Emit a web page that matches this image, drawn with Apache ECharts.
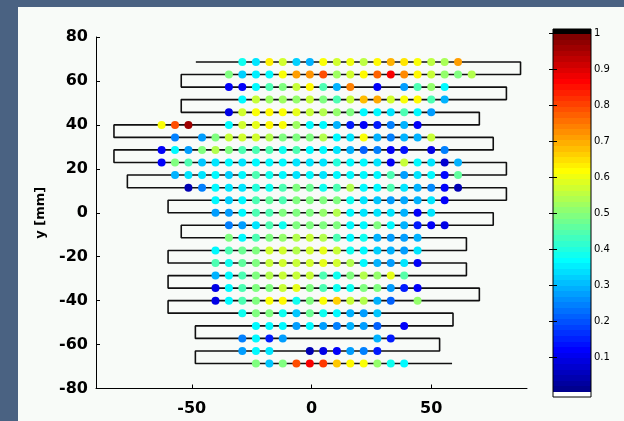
<!DOCTYPE html>
<html><head><meta charset="utf-8">
<script src="https://cdn.jsdelivr.net/npm/echarts@6.0.0/dist/echarts.min.js"></script>
<style>html,body{margin:0;padding:0;background:#4a6282;}#c{width:624px;height:421px;}</style>
</head><body><div id="c"></div>
<script>
// ---- data ----
// x position (mm) of each measurement column, k = -11 .. 12
const colX = [-62.6,-57.0,-51.4,-45.7,-40.1,-34.5,-28.9,-23.2,-17.6,-12.0,-6.3,-0.7,4.9,10.6,16.2,21.8,27.5,33.1,38.7,44.3,50.0,55.6,61.2,66.9];
// y position (mm) of each scan row, top to bottom
const rowY = [68.6,62.9,57.2,51.5,45.7,40.0,34.3,28.6,22.9,17.2,11.4,5.7,0,-5.7,-11.4,-17.2,-22.9,-28.6,-34.3,-40.0,-45.7,-51.5,-57.2,-62.9,-68.6];
// scan path extent of each row (mm)
const scanLeft  = [-48.3,-54.4,-54.4,-54.4,-54.4,-82.5,-82.5,-82.5,-82.5,-76.9,-76.9,-59.9,-59.9,-54.4,-54.4,-59.9,-59.9,-59.9,-59.9,-59.9,-59.9,-48.5,-48.5,-48.5,-48.5];
const scanRight = [87.3,87.3,81.4,81.4,70.1,70.1,75.9,75.9,81.4,81.4,81.4,81.4,75.9,75.9,64.7,64.7,64.7,64.7,70.1,70.1,59.1,59.1,53.5,53.5,58.7];
const n = null;
// measured value per row (columns as in colX)
const cellValues = [
 [n,n,n,n,n,n,.39,.35,.64,.58,.33,.30,.62,.58,.61,.56,.63,.70,.65,.62,.56,.54,.72,n],
 [n,n,n,n,n,.50,.33,.36,.37,.62,.72,.73,.80,.53,.58,.63,.78,.88,.74,.63,.57,.52,.50,.55],
 [n,n,n,n,n,.12,.12,.37,.45,.50,.57,.63,.45,.30,.75,n,.12,n,.28,.45,.52,.37,n,n],
 [n,n,n,n,n,n,.37,.57,.53,.53,.52,.57,.50,.45,.57,.69,.71,.58,.62,.63,.45,.30,n,n],
 [n,n,n,n,n,.10,.58,.62,.63,.62,.60,.57,.55,.52,.50,.37,.37,.35,.45,.37,.28,n,n,n],
 [.62,.80,.97,n,n,.37,.58,.60,.63,.62,.53,.37,.37,.30,.15,.12,.15,.25,.30,.12,n,n,n,n],
 [n,.25,n,.28,.50,.57,.58,.58,.55,.50,.50,.50,.55,.37,.35,.62,.30,.25,.30,.30,.57,n,n,n],
 [.12,.37,.28,.50,.55,.50,.45,.45,.45,.39,.45,.37,.37,.35,.30,.22,.25,.12,.14,n,.10,.25,n,n],
 [.12,.50,.45,.32,.35,.37,.35,.37,.37,.37,.35,.35,.35,.41,.37,.37,.35,.12,.57,.37,.35,.08,.30,n],
 [n,.30,.35,.35,.37,.33,.37,.45,.39,.37,.35,.37,.35,.37,.37,.37,.37,.45,.28,.35,.37,.13,.47,n],
 [n,n,.05,.25,.37,.35,.35,.41,.39,.45,.50,.48,.39,.45,.55,.37,.37,.45,.35,.30,.26,.12,.05,n],
 [n,n,n,n,.37,.33,.37,.45,.47,.45,.50,.50,.50,.50,.39,.35,.32,.28,.29,.30,.35,.12,n,n],
 [n,n,n,n,.28,.28,.37,.45,.45,.50,.50,.50,.52,.55,.37,.35,.35,.35,.30,.12,.35,n,n,n],
 [n,n,n,n,n,.25,.28,.35,.45,.39,.50,.50,.50,.50,.37,.37,.50,.37,.30,.15,.12,.10,n,n],
 [n,n,n,n,n,.50,.37,.45,.50,.52,.55,.57,.55,.45,.37,.39,.30,.28,.28,.30,n,n,n,n],
 [n,n,n,n,.37,.45,.48,.50,.58,.58,.55,.58,.60,.57,.39,.37,.33,.30,.28,.35,n,n,n,n],
 [n,n,n,n,.45,.39,.47,.50,.57,.58,.57,.58,.60,.58,.55,.37,.30,.28,.35,.12,n,n,n,n],
 [n,n,n,n,.30,.37,.45,.50,.55,.57,.57,.57,.45,.39,.50,.55,.52,.60,.46,n,n,n,n,n],
 [n,n,n,n,.10,.37,.45,.50,.50,.57,.60,.50,.45,.39,.39,.50,.50,.28,.15,.12,n,n,n,n],
 [n,n,n,n,.10,.37,.45,.50,.62,.63,.39,.50,.62,.67,.57,.55,.30,.22,n,.52,n,n,n,n],
 [n,n,n,n,n,n,.39,.50,.50,.39,.32,.48,.39,.37,.30,.28,.32,n,n,n,n,n,n,n],
 [n,n,n,n,n,n,n,.37,.37,.37,.28,.37,.28,.25,.30,.28,.22,n,.12,n,n,n,n,n],
 [n,n,n,n,n,n,.25,.37,.15,.28,n,n,n,n,n,n,.30,.15,n,n,n,n,n,n],
 [n,n,n,n,n,n,.28,.37,.35,n,n,.05,.10,.12,.28,.25,.15,n,n,n,n,n,n,n],
 [n,n,n,n,n,n,n,.50,.32,.50,.80,.88,.82,.68,.63,.62,.52,.39,.37,n,n,n,n,n]
];
const xTicks = [-50, 0, 50];
const cbTicks = [0.1,0.2,0.3,0.4,0.5,0.6,0.7,0.8,0.9,1];
const cbTickLabels = ['0.1','0.2','0.3','0.4','0.5','0.6','0.7','0.8','0.9','1'];

// ---- build ----
const points = [];
cellValues.forEach((row, i) => row.forEach((v, k) => { if (v !== null) points.push([colX[k], rowY[i], v]); }));
const path = [];
rowY.forEach((y, i) => {
  if (i % 2 === 0) { path.push([scanLeft[i], y], [scanRight[i], y]); }
  else { path.push([scanRight[i], y], [scanLeft[i], y]); }
});
function jetRGB(x) {
  const c = t => Math.max(0, Math.min(1, t));
  return [c(1.5 - Math.abs(4*x - 3)), c(1.5 - Math.abs(4*x - 2)), c(1.5 - Math.abs(4*x - 1))];
}
const toHex = a => '#' + a.map(v => Math.round(v*255).toString(16).padStart(2,'0')).join('');
const cmap = ['#ffffff'];
for (let i = 1; i <= 64; i++) cmap.push(toHex(jetRGB(i/64)));
cmap.push('#000000');
const stops = [];
cmap.forEach((c, i) => { stops.push({offset: i/cmap.length, color: c}, {offset: (i+1)/cmap.length, color: c}); });
const jet9 = ['#000080','#0000ff','#0080ff','#00ffff','#80ff80','#ffff00','#ff8000','#ff0000','#800000'];

const font = 'DejaVu Sans';
const chart = echarts.init(document.getElementById('c'), null, {renderer: 'canvas'});
chart.setOption({
  animation: false,
  backgroundColor: '#4a6282',
  graphic: [{type: 'rect', left: 18, top: 7, z: -100, shape: {width: 606, height: 414}, style: {fill: '#f8fbf8'}}],
  grid: [
    {left: 96, top: 37, width: 431, height: 351.5},
    {left: 553, top: 29, width: 38, height: 368, show: true, borderColor: '#000', borderWidth: 1,
     backgroundColor: {type: 'linear', x: 0, y: 1, x2: 0, y2: 0, colorStops: stops}}
  ],
  xAxis: [
    {type: 'value', gridIndex: 0, min: -90, max: 90,
     axisLine: {onZero: false, lineStyle: {color: '#000', width: 1}},
     axisTick: {inside: true, length: 4, customValues: xTicks, lineStyle: {color: '#000'}},
     axisLabel: {customValues: xTicks, color: '#000', fontFamily: font, fontWeight: 'bold', fontSize: 16, margin: 12},
     splitLine: {show: false}},
    {type: 'value', gridIndex: 1, min: 0, max: 1, show: false}
  ],
  yAxis: [
    {type: 'value', gridIndex: 0, min: -80, max: 80, interval: 20,
     axisLine: {show: true, onZero: false, lineStyle: {color: '#000', width: 1}},
     axisTick: {inside: true, length: 4, lineStyle: {color: '#000'}},
     axisLabel: {color: '#000', fontFamily: font, fontWeight: 'bold', fontSize: 16, margin: 8},
     splitLine: {show: false},
     name: 'y [mm]', nameLocation: 'middle', nameGap: 49, nameRotate: 90,
     nameTextStyle: {color: '#000', fontFamily: font, fontWeight: 'bold', fontSize: 13}},
    {type: 'value', gridIndex: 1, position: 'right', min: -0.0103, max: 1.0119,
     axisLine: {show: false},
     axisTick: {inside: true, length: 4, customValues: cbTicks, lineStyle: {color: '#000'}},
     axisLabel: {customValues: cbTicks, formatter: v => cbTickLabels[cbTicks.findIndex(t => Math.abs(t - v) < 1e-6)] ?? '',
       color: '#000', fontFamily: font, fontSize: 10, margin: 3},
     splitLine: {show: false}},
    {type: 'value', gridIndex: 1, position: 'left', min: -0.0103, max: 1.0119,
     axisLine: {show: false},
     axisTick: {inside: true, length: 4, customValues: cbTicks, lineStyle: {color: '#000'}},
     axisLabel: {show: false}, splitLine: {show: false}}
  ],
  visualMap: {type: 'continuous', show: false, seriesIndex: 1, dimension: 2, min: 0, max: 1, inRange: {color: jet9}},
  series: [
    {type: 'line', xAxisIndex: 0, yAxisIndex: 0, data: path, showSymbol: false, symbol: 'none', silent: true, z: 2,
     lineStyle: {color: '#111', width: 1.6}},
    {type: 'scatter', xAxisIndex: 0, yAxisIndex: 0, data: points, symbol: 'circle', symbolSize: 8, silent: true, z: 3,
     itemStyle: {opacity: 1}}
  ]
});
</script></body></html>
